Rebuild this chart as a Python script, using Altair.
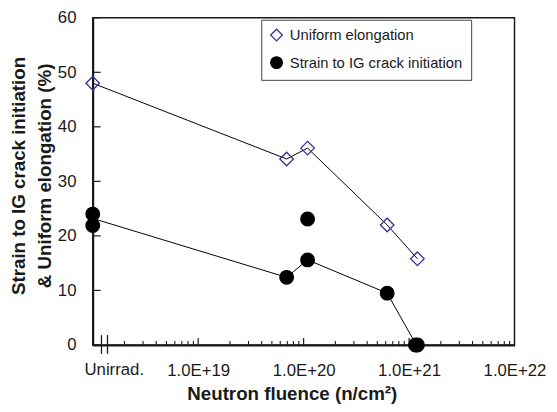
import altair as alt
import pandas as pd

SERIES = ["Uniform elongation", "Strain to IG crack initiation"]

# Uniform elongation (open diamonds)
ue_fluence = [1.0e18, 6.9e19, 1.09e20, 6.2e20, 1.2e21]
ue_value = [48.0, 34.1, 36.1, 22.0, 15.8]

# Strain to IG crack initiation (filled circles)
ig_fluence = [1.0e18, 1.0e18, 6.9e19, 1.09e20, 1.09e20, 6.2e20, 1.15e21, 1.2e21]
ig_value = [24.0, 21.9, 12.4, 15.6, 23.1, 9.5, 0.0, 0.0]

# Trend line through the IG crack initiation data
ig_line_fluence = [1.0e18, 6.9e19, 1.09e20, 6.2e20, 1.17e21]
ig_line_value = [23.2, 12.4, 15.6, 9.5, 0.0]

x_label_values = [1e19, 1e20, 1e21, 1e22]
y_tick_values = [0, 10, 20, 30, 40, 50, 60]
x_major_ticks = [1e19, 1e20, 1e21]
minor_multipliers = [2, 3, 4, 5, 6, 7, 8, 9]
decades = [1e18, 1e19, 1e20, 1e21]
x_minor_ticks = [m * d for d in decades for m in minor_multipliers]
break_marks = [1.21e18, 1.38e18]
unirrad_pos = [1.6e18]
unirrad_text = ["Unirrad."]

W, H = 428, 332
FONT = "Liberation Sans"
INK = "#1a1a1a"

pts = pd.DataFrame({
    "f": ue_fluence + ig_fluence,
    "v": ue_value + ig_value,
    "series": [SERIES[0]] * len(ue_fluence) + [SERIES[1]] * len(ig_fluence),
})
lines = pd.DataFrame({
    "f": ue_fluence + ig_line_fluence,
    "v": ue_value + ig_line_value,
    "series": [SERIES[0]] * len(ue_fluence) + [SERIES[1]] * len(ig_line_fluence),
})

X = alt.X(
    "f:Q",
    scale=alt.Scale(type="log", domain=[1e18, 1e22], nice=False),
    axis=alt.Axis(
        values=x_label_values,
        labelExpr="'1.0E+' + round(log(datum.value) / LN10)",
        ticks=False, grid=False, labelPadding=18, labelFlush=False,
        title="Neutron fluence (n/cm²)",
        titleX=202, titleY=55, titleBaseline="alphabetic", titleAlign="center",
    ),
)
Y = alt.Y(
    "v:Q",
    scale=alt.Scale(domain=[0, 60], nice=False),
    axis=alt.Axis(
        values=y_tick_values, ticks=False, grid=False, labelPadding=17,
        title=["Strain to IG crack initiation", "& Uniform elongation (%)"],
        titleX=-75, titleY=160, titleAngle=-90, titleAlign="center",
        titleBaseline="middle", titleLineHeight=26,
    ),
)

minor = alt.Chart(pd.DataFrame({"f": x_minor_ticks})).mark_rule(
    color=INK, strokeWidth=1.1
).encode(x=X, y=alt.value(H), y2=alt.value(H - 4))

major = alt.Chart(pd.DataFrame({"f": x_major_ticks})).mark_rule(
    color=INK, strokeWidth=1.2
).encode(x=X, y=alt.value(H), y2=alt.value(H - 7))

yticks = alt.Chart(pd.DataFrame({"v": y_tick_values})).mark_rule(
    color=INK, strokeWidth=1.2
).encode(y=Y, x=alt.value(0), x2=alt.value(8))

breaks = alt.Chart(pd.DataFrame({"f": break_marks})).mark_rule(
    color=INK, strokeWidth=1.3
).encode(x=X, y=alt.value(H - 10), y2=alt.value(H + 9))

line_layer = alt.Chart(lines).mark_line(color="black", strokeWidth=1).encode(
    x=X, y=Y, detail="series:N"
)

leg = alt.Legend(
    orient="none", legendX=171, legendY=2, title=None,
    labelExpr="datum.label + '" + "\u00a0" * 11 + "'",
)

point_layer = alt.Chart(pts).mark_point(opacity=1, strokeWidth=1.3, size=190).encode(
    x=X, y=Y,
    shape=alt.Shape("series:N", scale=alt.Scale(domain=SERIES, range=["diamond", "circle"]), legend=leg),
    fill=alt.Fill("series:N", scale=alt.Scale(domain=SERIES, range=["transparent", "black"]), legend=leg),
    stroke=alt.Stroke("series:N", scale=alt.Scale(domain=SERIES, range=["#333399", "black"]), legend=leg),
)

text_layer = alt.Chart(pd.DataFrame({"f": unirrad_pos, "t": unirrad_text})).mark_text(
    font=FONT, fontSize=17, color=INK, baseline="top", align="center"
).encode(x=X, y=alt.value(H + 18), text="t:N")

chart = alt.layer(
    minor, major, yticks, breaks, line_layer, point_layer, text_layer
).properties(
    width=W, height=H,
    padding={"left": 86, "top": 7, "right": 35, "bottom": 57},
    autosize=alt.AutoSizeParams(type="none"),
).configure_view(
    stroke=INK, strokeWidth=1.5
).configure_axis(
    domainColor=INK, domainWidth=2,
    labelFont=FONT, labelFontSize=17, labelColor=INK,
    titleFont=FONT, titleFontSize=19, titleFontWeight="bold", titleColor=INK,
).configure_legend(
    padding=8, rowPadding=9, labelOffset=6, labelLimit=300,
    strokeColor="#444", fillColor="white",
    labelFont=FONT, labelFontSize=15, labelColor=INK,
    symbolSize=140, symbolStrokeWidth=1.3,
)

chart.save("out.html", embed_options={"renderer": "svg", "actions": False})
